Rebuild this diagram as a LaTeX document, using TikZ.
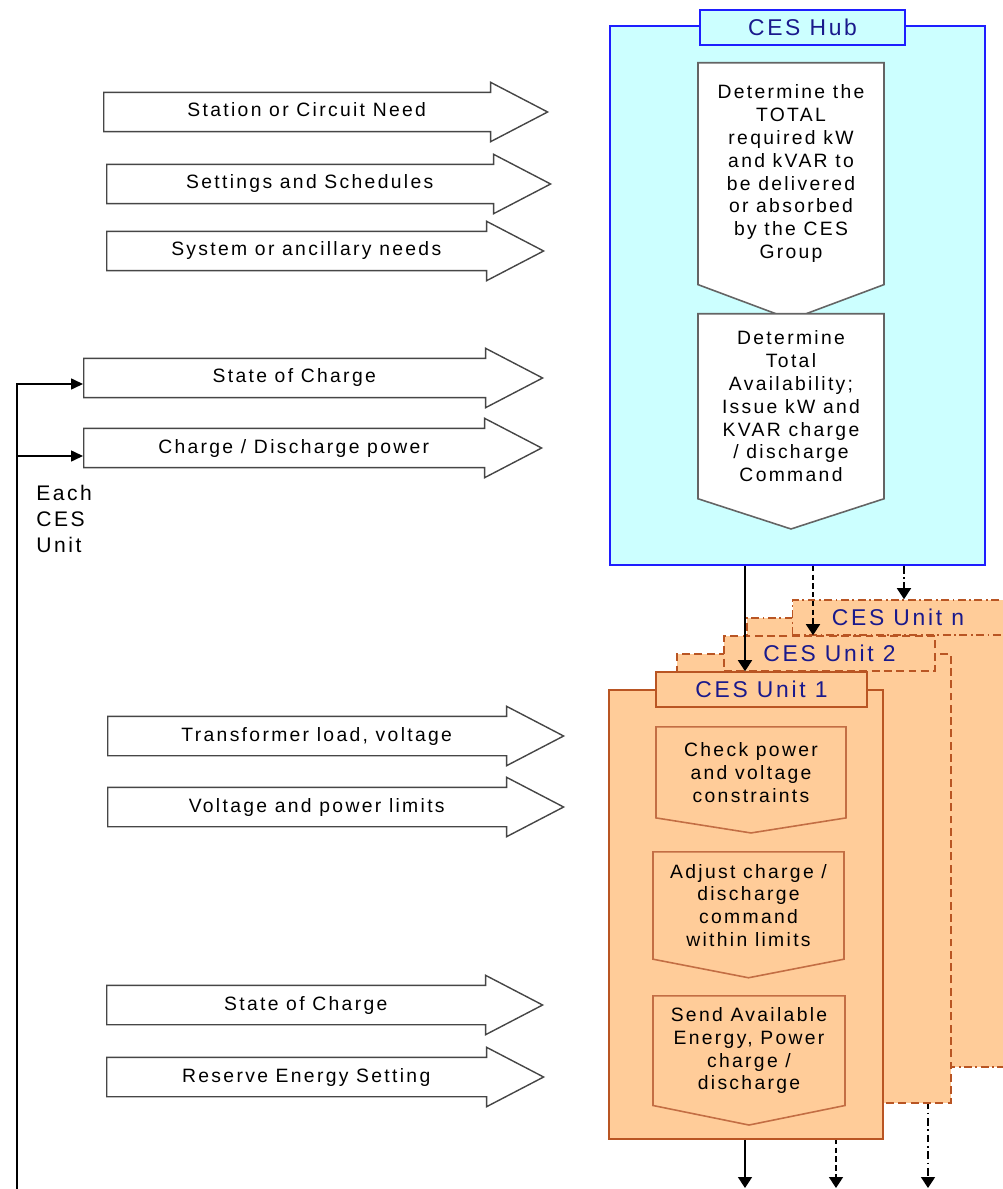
\documentclass[tikz,border=0pt]{standalone}
\usepackage{fontspec}
\setmainfont{Liberation Sans}[LetterSpace=12]
\usepackage{tikz}
\usetikzlibrary{arrows.meta}
\usetikzlibrary{positioning}
\usetikzlibrary{shapes.arrows,shapes.symbols}

\definecolor{hubfill}{RGB}{204,255,255}
\definecolor{hubline}{RGB}{30,30,255}
\definecolor{titleblue}{RGB}{25,25,140}
\definecolor{unitfill}{RGB}{255,204,153}
\definecolor{unitline}{RGB}{185,85,35}
\definecolor{boxgray}{RGB}{100,100,100}
\definecolor{arrowgray}{RGB}{70,70,70}

\tikzset{
  inarrow/.style={single arrow, draw=arrowgray, fill=white, line width=0.8pt,
    single arrow head extend=0.2cm, single arrow tip angle=55, single arrow head indent=0pt,
    text height=0.28cm, text depth=0.08cm, inner ysep=0.2cm, anchor=tail},
  hubstep/.style={signal, signal to=south, signal from=nowhere, draw=boxgray, fill=white,
    line width=0.9pt, align=center, anchor=north, minimum width=3.72cm, inner sep=1pt},
  unitstep/.style={signal, signal to=south, signal from=nowhere, draw=unitline!85, fill=unitfill,
    line width=0.9pt, align=center, anchor=north, inner sep=1pt},
  unitbody/.style={draw=unitline, fill=unitfill, line width=0.9pt, minimum width=5.48cm, minimum height=8.98cm},
  unittab/.style={draw=unitline, fill=unitfill, line width=0.9pt, minimum width=4.22cm, minimum height=0.7cm,
    text=titleblue, font=\fontsize{13}{15}\selectfont},
  dashline/.style={dash pattern=on 4.5pt off 2.5pt},
  dotdashline/.style={dash pattern=on 4.5pt off 2pt on 1pt off 2pt},
  flow/.style={-{Triangle[width=0.28cm,length=0.22cm]}, line width=0.9pt},
  fback/.style={-{Triangle[width=0.22cm,length=0.24cm]}, line width=0.9pt}
}

\begin{document}
\begin{tikzpicture}[x=0.02cm, y=-0.02cm, font=\fontsize{11}{13}\selectfont]
    \useasboundingbox (0,0) rectangle (1003,1189);

    % Inputs to the hub
    \node [inarrow, minimum height=8.88cm] (need) at (103,112) {Station or Circuit Need};
    \node [inarrow, minimum height=8.88cm] (sched) at (106,184) {Settings and Schedules};
    \node [inarrow, minimum height=8.74cm] (sys) at (106,251) {System or ancillary needs};
    \node [inarrow, minimum height=9.18cm] (soc) at (83,378) {State of Charge};
    \node [inarrow, minimum height=9.16cm] (cdp) at (83,448) {Charge / Discharge power};

    % Feedback from each unit
    \node [align=left, anchor=north west, inner sep=0pt, font=\fontsize{12}{14.7}\selectfont] (each) at (36,485) {Each\\CES\\Unit};
    \coordinate (fbfoot) at (17,1189);
    \coordinate (socin) at ([yshift=-0.12cm]soc.tail);
    \coordinate (cdpin) at ([yshift=-0.16cm]cdp.tail);
    \draw [fback] (fbfoot) |- (socin);
    \draw [fback] (fbfoot |- cdpin) -- (cdpin);

    % Inputs to the units
    \node [inarrow, minimum height=9.12cm] (xfmr) at (107,736) {Transformer load, voltage};
    \node [inarrow, minimum height=9.12cm] (vlim) at (107,807) {Voltage and power limits};
    \node [inarrow, minimum height=8.72cm] (socu) at (106,1005) {State of Charge};
    \node [inarrow, minimum height=8.74cm] (rsv) at (106,1077) {Reserve Energy Setting};

    % CES Hub
    \node [draw=hubline, fill=hubfill, line width=0.9pt, minimum width=7.5cm, minimum height=10.78cm] (hub) at (797.5,295.5) {};
    \node [draw=hubline, fill=hubfill, line width=0.9pt, minimum width=4.1cm, minimum height=0.7cm,
      text=titleblue, font=\fontsize{13}{15}\selectfont] (hubtitle) at (802.5,27.5) {CES Hub};
    \node [hubstep, minimum height=5.0cm, signal pointer angle=139] (total) at (791,62)
      {Determine the\\TOTAL\\required kW\\and kVAR to\\be delivered\\or absorbed\\by the CES\\Group};
    \node [hubstep, minimum height=4.16cm, signal pointer angle=144] (avail) at (791,313)
      {Determine\\Total\\Availability;\\Issue kW and\\KVAR charge\\/ discharge\\Command};

    % CES Unit n
    \node [unitbody, dotdashline] (un) at (884,842.5) {};
    \node [unittab, dotdashline] (tabn) at (898,617.5) {CES Unit n};
    \coordinate (outn) at (928,1188);
    \draw [flow, dotdashline] (un.south -| outn) -- (outn);

    % CES Unit 2
    \node [unitbody, dashline] (u2) at (814,878.5) {};
    \node [unittab, dashline] (tab2) at (829.5,653.5) {CES Unit 2};
    \coordinate (out2) at (836,1188);
    \draw [flow, dash pattern=on 3pt off 2pt] (u2.south -| out2) -- (out2);

    % CES Unit 1
    \node [unitbody] (u1) at (746,914.5) {};
    \node [unittab] (tab1) at (761.5,689.5) {CES Unit 1};
    \coordinate (out1) at (745,1188);
    \draw [flow] (u1.south -| out1) -- (out1);
    \node [unitstep, minimum width=3.8cm, minimum height=2.04cm, signal pointer angle=162] (check) at (751,726)
      {Check power\\and voltage\\constraints};
    \node [unitstep, minimum width=3.82cm, minimum height=2.46cm, signal pointer angle=158] (adjust) at (748.5,851)
      {Adjust charge /\\discharge\\command\\within limits};
    \node [unitstep, minimum width=3.84cm, minimum height=2.52cm, signal pointer angle=157] (send) at (749,995)
      {Send Available\\Energy, Power\\charge /\\discharge};

    % Commands from the hub
    \coordinate (in1) at ([xshift=-0.33cm]tab1.north);
    \coordinate (in2) at ([xshift=-0.33cm]tab2.north);
    \coordinate (inn) at ([xshift=0.12cm]tabn.north);
    \draw [flow] (hub.south -| in1) -- (in1);
    \draw [flow, dash pattern=on 3pt off 2pt] (hub.south -| in2) -- (in2);
    \draw [flow, dotdashline] (hub.south -| inn) -- (inn);

\end{tikzpicture}
\end{document}
